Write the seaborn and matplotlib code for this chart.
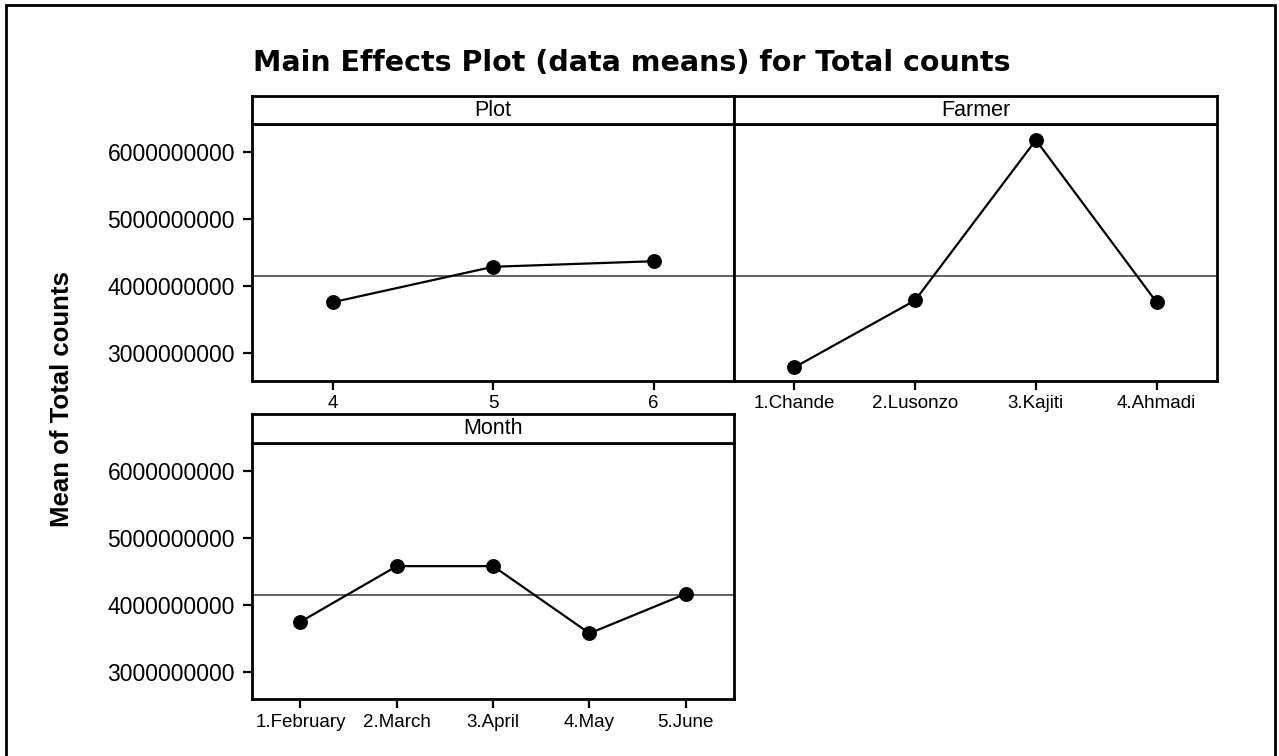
import matplotlib
matplotlib.use("Agg")
import matplotlib.pyplot as plt
from matplotlib import ticker
from matplotlib.patches import Rectangle
import seaborn as sns
import pandas as pd

# ---- data ----
plot_levels = ["4", "5", "6"]
plot_means = [3.761e9, 4.290e9, 4.373e9]

farmer_levels = ["1.Chande", "2.Lusonzo", "3.Kajiti", "4.Ahmadi"]
farmer_means = [2.790e9, 3.790e9, 6.180e9, 3.760e9]

month_levels = ["1.February", "2.March", "3.April", "4.May", "5.June"]
month_means = [3.746e9, 4.578e9, 4.578e9, 3.573e9, 4.164e9]

grand_mean = 4.15e9
y_ticks = [3000000000, 4000000000, 5000000000, 6000000000]

title = "Main Effects Plot (data means) for Total counts"
ylabel = "Mean of Total counts"

sns.set_theme(style="white")
plt.rcParams["font.family"] = ["Liberation Sans", "DejaVu Sans"]
for k in ["text.color", "axes.labelcolor", "xtick.color", "ytick.color"]:
    plt.rcParams[k] = "black"

W, H = 1279, 756
fig = plt.figure(figsize=(W / 100, H / 100), dpi=100)
fig.patch.set_facecolor("white")


def rect(x0, y0, x1, y1):
    return [x0 / W, 1 - y1 / H, (x1 - x0) / W, (y1 - y0) / H]


YLIM = (2.591e9, 6.415e9)


def panel(box, strip_box, name, levels, means, left_ticks):
    ax = fig.add_axes(rect(*box))
    df = pd.DataFrame({"level": levels, "mean": means})
    ax.axhline(grand_mean, color="#555555", lw=1.3, zorder=1)
    sns.pointplot(data=df, x="level", y="mean", order=levels, color="black",
                  markers="o", markersize=9.5, linewidth=1.6, ax=ax, zorder=3)
    ax.set_xlim(-0.5, len(levels) - 0.5)
    ax.set_ylim(*YLIM)
    ax.set_xlabel("")
    ax.set_ylabel("")
    for s in ax.spines.values():
        s.set_visible(True)
        s.set_color("black")
        s.set_linewidth(2.0)
    ax.tick_params(axis="x", direction="out", length=6.5, width=1.6,
                   color="black", labelcolor="black", labelsize=13.5, pad=4,
                   bottom=True)
    ax.yaxis.set_major_locator(ticker.FixedLocator(y_ticks))
    ax.yaxis.set_major_formatter(ticker.FuncFormatter(lambda v, p: f"{v:.0f}"))
    if left_ticks:
        ax.tick_params(axis="y", direction="out", length=6.5, width=1.6,
                       color="black", labelcolor="black", labelsize=16.5,
                       pad=6, left=True)
    else:
        ax.tick_params(axis="y", left=False, labelleft=False)
    ax.grid(False)
    # strip
    sax = fig.add_axes(rect(*strip_box))
    sax.set_xticks([])
    sax.set_yticks([])
    for s in sax.spines.values():
        s.set_visible(True)
        s.set_color("black")
        s.set_linewidth(2.0)
    sax.text(0.5, 0.5, name, ha="center", va="center", fontsize=15.5,
             color="black", transform=sax.transAxes)
    return ax


panel((252.3, 124.3, 734, 380.7), (252.3, 95.7, 734, 124.3), "Plot",
      plot_levels, plot_means, True)
panel((734, 124.3, 1217, 380.7), (734, 95.7, 1217, 124.3), "Farmer",
      farmer_levels, farmer_means, False)
panel((252.3, 443.3, 734, 699), (252.3, 414, 734, 443.3), "Month",
      month_levels, month_means, True)

fig.text(253 / W, 1 - 71 / H, title, fontsize=20.5, fontweight="bold",
         family=["DejaVu Sans"], color="black", ha="left", va="baseline")
fig.text(62 / W, 1 - 399 / H, ylabel, fontsize=18.5, fontweight="bold",
         color="black", rotation=90, ha="center", va="center")

fig.add_artist(Rectangle((6 / W, -0.02), (1275 - 6) / W, 1 - 5 / H + 0.02,
                         transform=fig.transFigure, fill=False,
                         edgecolor="black", linewidth=2.0))

fig.savefig("out.png", dpi=100, facecolor="white")
